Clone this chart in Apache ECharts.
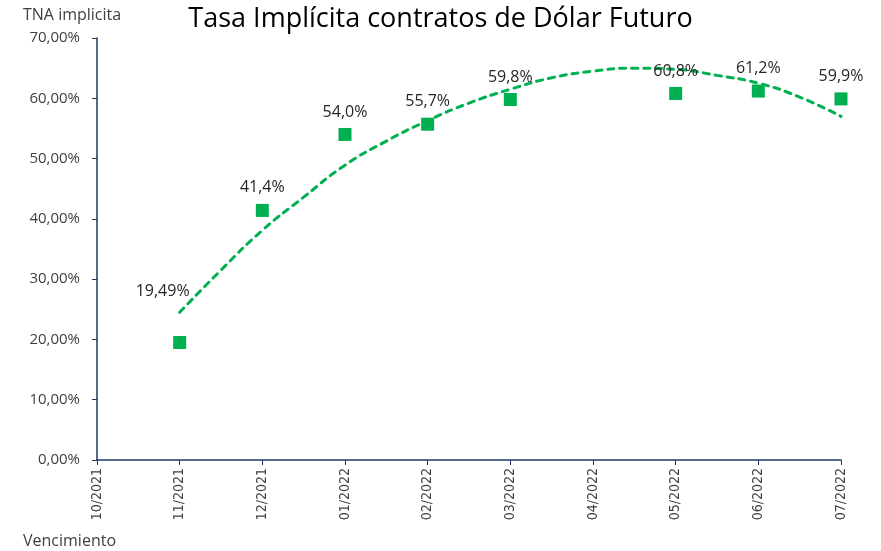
<!DOCTYPE html>
<html>
<head>
<meta charset="utf-8">
<script src="https://cdn.jsdelivr.net/npm/echarts@6/dist/echarts.min.js"></script>
<style>
  html, body { margin: 0; padding: 0; background: #fff; }
  #grafico { width: 881px; height: 551px; }
</style>
</head>
<body>
<div id="grafico"></div>
<script>
// meses de vencimiento (eje x, un tick por mes)
var meses = ['10/2021', '11/2021', '12/2021', '01/2022', '02/2022', '03/2022', '04/2022', '05/2022', '06/2022', '07/2022'];

// TNA implícita por vencimiento (%), posición = índice del mes
var tnaMes = [1, 2, 3, 4, 5, 7, 8, 9];
var tna = [19.49, 41.4, 54.0, 55.7, 59.8, 60.8, 61.2, 59.9];

// etiquetas tal como aparecen
var etiquetas = ['19,49%', '41,4%', '54,0%', '55,7%', '59,8%', '60,8%', '61,2%', '59,9%'];

// línea de tendencia (%), cada medio mes
var tendMes = [1, 1.5, 2, 2.5, 3, 3.5, 4, 4.5, 5, 5.5, 6, 6.5, 7, 7.5, 8, 8.5, 9];
var tendencia = [24.5, 31.5, 38.1, 43.6, 48.9, 52.9, 56.3, 59.2, 61.5, 63.4, 64.5, 65.0, 64.8, 63.8, 62.5, 60.2, 57.0];

var verde = '#00B050';
var azulEje = '#1F3864';
var fuente = 'Open Sans, sans-serif';

var myChart = echarts.init(document.getElementById('grafico'));

var puntos = tna.map(function (v, i) {
    var item = { value: [tnaMes[i], v] };
    if (i === 0) {
        item.label = { offset: [-17, -29] };
    }
    return item;
});

var lineaTend = tendencia.map(function (v, i) { return [tendMes[i], v]; });

var option = {
    animation: false,
    textStyle: { fontFamily: fuente },
    title: [
        {
            text: 'Tasa Implícita contratos de Dólar Futuro',
            left: 'center',
            top: 1,
            textStyle: { fontSize: 27, fontWeight: 'normal', color: '#000', fontFamily: fuente }
        },
        {
            text: 'TNA implicita',
            left: 23,
            top: 7,
            padding: 0,
            textStyle: { fontSize: 16, fontWeight: 'normal', color: '#404040', fontFamily: fuente }
        },
        {
            text: 'Vencimiento',
            left: 23,
            top: 533,
            padding: 0,
            textStyle: { fontSize: 16, fontWeight: 'normal', color: '#404040', fontFamily: fuente }
        }
    ],
    grid: { left: 97, right: 40, top: 38, bottom: 91, containLabel: false },
    xAxis: {
        type: 'value',
        min: 0,
        max: 9,
        interval: 1,
        axisLine: { lineStyle: { color: azulEje, width: 1.5 } },
        axisTick: { show: true, length: 5, lineStyle: { color: azulEje } },
        axisLabel: {
            rotate: 90,
            fontSize: 14,
            color: '#404040',
            margin: 8,
            fontFamily: 'Liberation Sans Narrow, DejaVu Sans Condensed, sans-serif',
            formatter: function (v) { return meses[v]; }
        },
        splitLine: { show: false }
    },
    yAxis: {
        type: 'value',
        min: 0,
        max: 70,
        interval: 10,
        axisLine: { show: true, lineStyle: { color: azulEje, width: 1.5 } },
        axisTick: { show: true, length: 5, lineStyle: { color: azulEje } },
        axisLabel: {
            fontSize: 15,
            color: '#404040',
            margin: 17,
            formatter: function (v) { return v.toFixed(2).replace('.', ',') + '%'; }
        },
        splitLine: { show: false }
    },
    series: [
        {
            name: 'Tendencia',
            type: 'line',
            data: lineaTend,
            smooth: true,
            symbol: 'none',
            lineStyle: { color: verde, width: 3, type: [6, 6], cap: 'round' },
            z: 2
        },
        {
            name: 'TNA',
            type: 'scatter',
            data: puntos,
            symbol: 'rect',
            symbolSize: 13,
            itemStyle: { color: verde, opacity: 1 },
            label: {
                show: true,
                position: 'top',
                distance: 8,
                fontSize: 16,
                color: '#262626',
                opacity: 1,
                formatter: function (p) { return etiquetas[p.dataIndex]; }
            },
            z: 3
        }
    ]
};

myChart.setOption(option);
window.onresize = myChart.resize;
</script>
</body>
</html>
